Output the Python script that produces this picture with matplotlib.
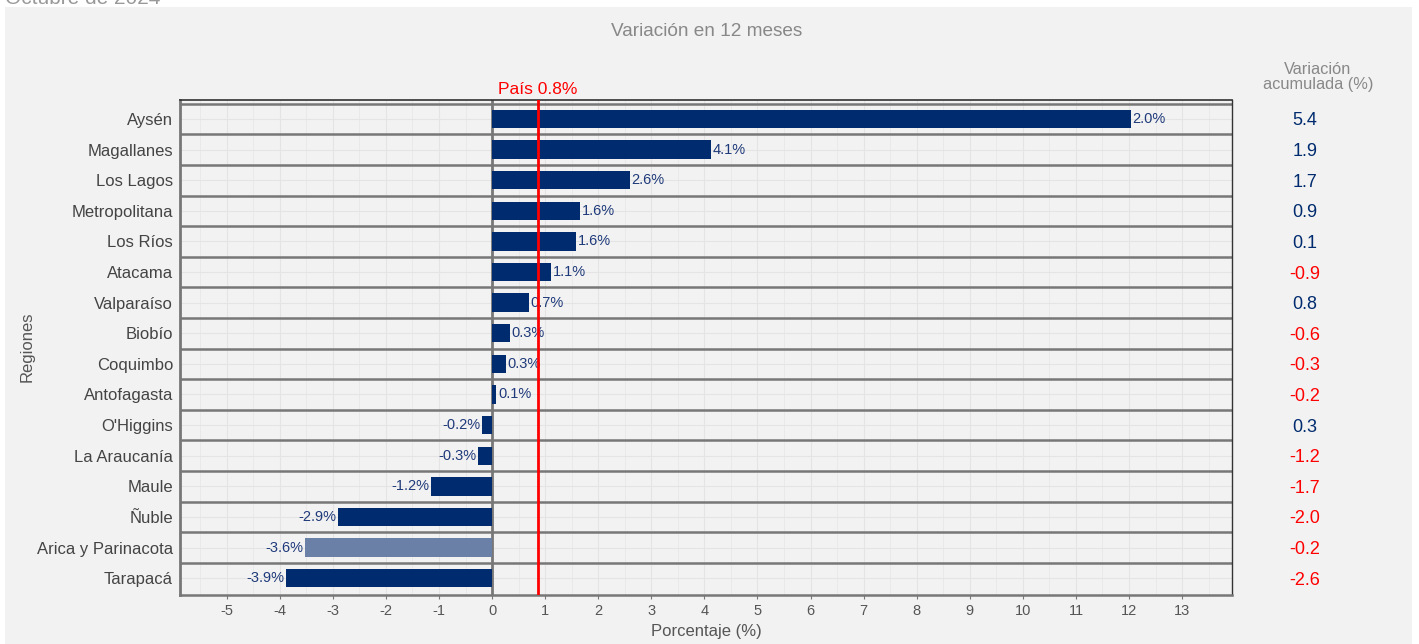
import numpy as np
import matplotlib.pyplot as plt
from matplotlib.patches import Rectangle

plt.rcParams['font.family'] = ['Liberation Sans', 'DejaVu Sans']
plt.rcParams['axes.unicode_minus'] = False

# data
regiones = ['Aysén', 'Magallanes', 'Los Lagos', 'Metropolitana', 'Los Ríos', 'Atacama',
            'Valparaíso', 'Biobío', 'Coquimbo', 'Antofagasta', "O'Higgins", 'La Araucanía',
            'Maule', 'Ñuble', 'Arica y Parinacota', 'Tarapacá']
var_12m = [12.03, 4.12, 2.60, 1.66, 1.58, 1.11, 0.70, 0.34, 0.26, 0.08,
           -0.19, -0.26, -1.15, -2.90, -3.52, -3.88]
etiquetas = ['2.0%', '4.1%', '2.6%', '1.6%', '1.6%', '1.1%', '0.7%', '0.3%', '0.3%', '0.1%',
             '-0.2%', '-0.3%', '-1.2%', '-2.9%', '-3.6%', '-3.9%']
var_acum = [5.4, 1.9, 1.7, 0.9, 0.1, -0.9, 0.8, -0.6, -0.3, -0.2, 0.3, -1.2, -1.7, -2.0, -0.2, -2.6]
pais = 0.86
destacada = 'Arica y Parinacota'

navy = '#002b6e'
claro = '#6a80a6'
bg = '#f2f2f2'

fig = plt.figure(figsize=(14.19, 6.44), dpi=100, facecolor='white')
fig.patches.append(Rectangle((5 / 1419, 0), 1407 / 1419, 1 - 7 / 644,
                             transform=fig.transFigure, facecolor=bg, edgecolor='none', zorder=-10))
fig.text(5 / 1419, 1 - 4 / 644, 'Octubre de 2024', fontsize=15, color='#999999',
         ha='left', va='baseline')

ax = fig.add_axes([180 / 1419, 1 - 595 / 644, 1052 / 1419, 495 / 644])
ax.set_facecolor(bg)

y = np.arange(len(regiones))
colores = [claro if r == destacada else navy for r in regiones]
ax.barh(y, var_12m, height=0.6, color=colores, zorder=3)

for yi, v, t in zip(y, var_12m, etiquetas):
    if v >= 0:
        ax.text(v + 0.03, yi, t, ha='left', va='center', fontsize=10.5, color='#1f3a7a', zorder=4)
    else:
        ax.text(v - 0.03, yi, t, ha='right', va='center', fontsize=10.5, color='#1f3a7a', zorder=4)

# row separators and zero line
for b in np.arange(-0.5, len(regiones) - 1, 1.0):
    ax.axhline(b, color='#777777', lw=1.8, zorder=2)
ax.axvline(0, color='#777777', lw=2, zorder=2)
ax.axvline(pais, color='red', lw=2, zorder=5)
fig.text(498 / 1419, 1 - 94 / 644, 'País 0.8%', color='red', fontsize=12.5,
         ha='left', va='baseline')

ax.set_xlim(-5.88, 13.94)
ax.set_ylim(15.55, -0.62)
ax.set_xticks(range(-5, 14))
ax.set_xticks(np.arange(-5.5, 14, 1.0), minor=True)
ax.set_yticks(y)
ax.set_yticks(np.arange(-0.5, 16, 1.0), minor=True)
ax.set_yticklabels(regiones, fontsize=12, color='#444444')
ax.tick_params(axis='x', labelsize=10.5, labelcolor='#555555', color='#777777', length=3)
ax.tick_params(axis='y', length=0, pad=5)
ax.tick_params(which='minor', length=0)
ax.grid(which='major', color='#e4e4e4', lw=0.8, zorder=0)
ax.grid(which='minor', axis='x', color='#e8e8e8', lw=0.6, zorder=0)

ax.spines['left'].set_color('#777777')
ax.spines['left'].set_linewidth(2)
ax.spines['bottom'].set_color('#777777')
ax.spines['bottom'].set_linewidth(1.8)
ax.spines['top'].set_color('#333333')
ax.spines['top'].set_linewidth(1.2)
ax.spines['right'].set_color('#333333')
ax.spines['right'].set_linewidth(1)

ax.set_xlabel('Porcentaje (%)', fontsize=12, color='#555555', labelpad=4)
fig.text(27 / 1419, 1 - 347 / 644, 'Regiones', fontsize=12, color='#555555',
         rotation=90, ha='center', va='center')

fig.text(707 / 1419, 1 - 31 / 644, 'Variación en 12 meses', fontsize=13.7, color='#888888',
         ha='center', va='center')
fig.text(1318 / 1419, 1 - 77 / 644, 'Variación\nacumulada (%)', fontsize=11.8, color='#888888',
         ha='center', va='center', linespacing=0.95)

for yi, v in zip(y, var_acum):
    c = navy if v >= 0 else 'red'
    yf = ax.transData.transform((0, yi))[1]
    fig.text(1305 / 1419, fig.transFigure.inverted().transform((0, yf))[1], f'{v:.1f}',
             fontsize=13, color=c, ha='center', va='center_baseline')

fig.savefig('out.png', dpi=100, facecolor=fig.get_facecolor())
